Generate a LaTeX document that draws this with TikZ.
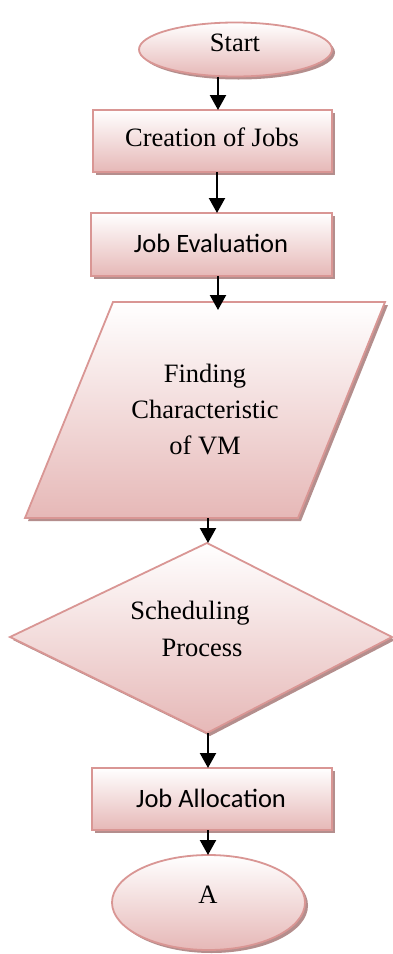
\documentclass[tikz,border=0pt]{standalone}
\usepackage{fontspec}
\setmainfont{Liberation Serif}
\newfontfamily\calib{Carlito}
\usetikzlibrary{shapes.geometric,shadows,arrows.meta}
\definecolor{edgec}{RGB}{217,150,148}
\definecolor{fillb}{RGB}{230,184,183}
\definecolor{shadc}{RGB}{180,142,141}
\begin{document}
\begin{tikzpicture}[x=1pt,y=-1pt,
  shp/.style={draw=edgec, line width=1.8pt, top color=white, bottom color=fillb,
    drop shadow={shadow xshift=3pt, shadow yshift=-3pt, fill=shadc, opacity=1}},
  boxn/.style={shp, rectangle, inner sep=0pt, outer sep=0pt},
  elln/.style={shp, ellipse, inner sep=0pt, outer sep=0pt},
  txt/.style={font=\fontsize{26.5}{36}\selectfont, inner sep=0pt, align=center},
  ctxt/.style={font=\calib\fontsize{26.5}{36}\selectfont, inner sep=0pt, align=center},
  arr/.style={line width=2.2pt, -{Triangle[length=15pt,width=16pt]}}
]
\useasboundingbox (0,0) rectangle (393,954);
\fill[white] (0,0) rectangle (393,954);

% shapes
\node[elln, minimum width=193pt, minimum height=54pt] (start) at (235.5,49.5) {};
\node[boxn, minimum width=239pt, minimum height=62pt] (create) at (212.5,141) {};
\node[boxn, minimum width=241pt, minimum height=63pt] (eval) at (211.5,244.5) {};
\path[shp] (113,302) -- (385,302) -- (298,518) -- (25,518) -- cycle;
\coordinate (paraT) at (218,310);
\coordinate (paraB) at (208,518);
\path[shp] (207,543) -- (392,637) -- (207,733) -- (10,637) -- cycle;
\coordinate (diaT) at (208,543);
\coordinate (diaB) at (208,733);
\node[boxn, minimum width=240pt, minimum height=62pt] (alloc) at (212,799) {};
\node[elln, minimum width=193pt, minimum height=95pt] (endA) at (208.5,902.5) {};

% texts
\node[txt] (tStart) at (235,43) {Start};
\node[txt] (tCreate) at (212,137) {Creation of Jobs};
\node[ctxt] (tEval) at (211,243) {Job Evaluation};
\node[txt] (tPara) at (205,409) {Finding\\Characteristic\\of VM};
\node[txt] (tSched) at (190,613) {Scheduling};
\node[txt] (tProc) at (202,648) {Process};
\node[ctxt] (tAlloc) at (211,798) {Job Allocation};
\node[txt] (tA) at (208,895) {A};

% connectors
\coordinate (x1) at (218,0);
\coordinate (x2) at (217,0);
\draw[arr] (start.south -| x1) -- (create.north -| x1);
\draw[arr] (create.south -| x2) -- (eval.north -| x2);
\draw[arr] (eval.south -| x1) -- (paraT);
\draw[arr] (paraB) -- (diaT);
\draw[arr] (diaB) -- (alloc.north -| diaB);
\draw[arr] (alloc.south -| diaB) -- (endA.north -| diaB);
\end{tikzpicture}
\end{document}
